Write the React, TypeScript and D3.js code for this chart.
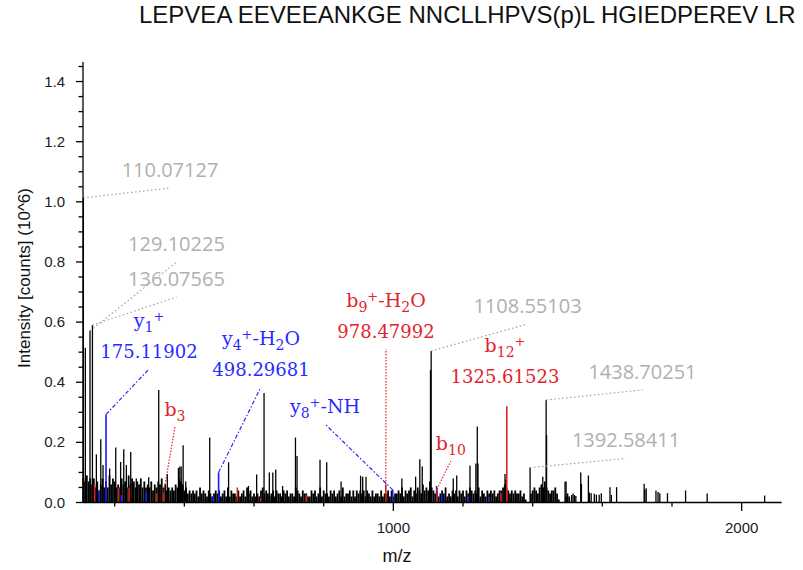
import React from "react";
import * as d3 from "d3";

const TITLE = "LEPVEA EEVEEANKGE NNCLLHPVS(p)L HGIEDPEREV LR";
const X_TITLE = "m/z";
const Y_TITLE = "Intensity [counts] (10^6)";

const X_DOMAIN = [109, 2115];
const Y_DOMAIN = [0, 1.465];
const X_MAJOR = [1000, 2000];
const X_MINOR = [200, 400, 600, 800, 1200, 1400, 1600, 1800];
const Y_MAJOR = [0, 0.2, 0.4, 0.6, 0.8, 1.0, 1.2, 1.4];
const Y_MINOR = [0.05, 0.1, 0.15, 0.25, 0.3, 0.35, 0.45, 0.5, 0.55, 0.65, 0.7, 0.75, 0.85, 0.9, 0.95, 1.05, 1.1, 1.15, 1.25, 1.3, 1.35, 1.45];

// low-level background peaks, hundredths of 10^6 counts, every 5 m/z from 110
const NOISE_MZ_START = 110;
const NOISE_MZ_STEP = 5;
const NOISE_HUNDREDTHS = [
  "8797868574", "6857596875", "6586759687", "5768575657", "4657685645",
  "4546587645", "3434342534", "3243234342", "3425243324", "2342534232",
  "3245343234", "2433243423", "3254324332", "2434235243", "3243423425",
  "2334242434", "3424324233", "2423342423", "3435243452", "4354364547",
  "5434234352", "3243424342", "4354343524", "3243434234", "4565434343",
  "3423100345", "4356575434", "4531000232",
].join("");

// unassigned peaks
const BLACK_MZ = [115.7, 147.4, 160, 166.5, 185.5, 203, 217, 226, 233.5, 246, 262, 297.6, 326.4, 351, 383, 387, 391, 396.5, 404,
  472.8, 527, 584, 607.6, 628.8, 644, 654, 662.4, 682, 719, 723.5, 789.5, 808.7, 850, 906, 912, 921.6,
  1024.5, 1064, 1076, 1083, 1106.7, 1172, 1182, 1220, 1237, 1241, 1243, 1320.6, 1323, 1429, 1439.9,
  1493, 1496, 1512, 1516, 1520, 1524, 1538, 1540, 1560, 1563, 1568, 1577, 1583, 1591, 1597,
  1622, 1626, 1641, 1720, 1722, 1726, 1754, 1760, 1765, 1787, 1839, 1901, 2066];
const BLACK_INT = [0.515, 0.16, 0.21, 0.125, 0.113, 0.183, 0.135, 0.177, 0.125, 0.168, 0.08, 0.084, 0.374, 0.095, 0.115, 0.12, 0.12, 0.19, 0.07,
  0.216, 0.134, 0.055, 0.093, 0.364, 0.1, 0.1, 0.11, 0.055, 0.216, 0.155, 0.142, 0.134, 0.07, 0.089, 0.086, 0.086,
  0.08, 0.086, 0.144, 0.12, 0.44, 0.08, 0.09, 0.123, 0.13, 0.253, 0.13, 0.095, 0.075, 0.086, 0.224,
  0.07, 0.07, 0.025, 0.03, 0.025, 0.022, 0.1, 0.062, 0.09, 0.033, 0.031, 0.029, 0.026, 0.026, 0.031,
  0.051, 0.025, 0.051, 0.062, 0.042, 0.047, 0.04, 0.035, 0.031, 0.031, 0.04, 0.03, 0.023];

// small matched b-ion peaks (red) and y-ion peaks (blue)
const RED_MZ = [142.6, 211.5, 241, 319.6, 552, 619, 751, 1309];
const RED_INT = [0.06, 0.048, 0.048, 0.03, 0.05, 0.015, 0.025, 0.03];
const BLUE_MZ = [155, 219, 291, 483, 1124, 1139, 1215, 1275.6];
const BLUE_INT = [0.04, 0.025, 0.037, 0.02, 0.055, 0.03, 0.02, 0.018];

// annotated peaks
const ANNOT_MZ = [110.07127, 129.10225, 136.07565, 175.11902, 498.29681, 998.3, 340.19, 978.47992, 1125.53, 1325.61523, 1108.55103, 1438.70251, 1392.58411];
const ANNOT_INT = [1.013, 0.571, 0.59, 0.293, 0.1, 0.042, 0.03, 0.06, 0.045, 0.32, 0.504, 0.341, 0.116];
const ANNOT_TONE = ["gray", "gray", "gray", "blue", "blue", "blue", "red", "red", "red", "red", "gray", "gray", "gray"];
const ANNOT_ION = ["", "", "", "y_1^+", "y_4^+-H_2O", "y_8^+-NH", "b_3", "b_9^+-H_2O", "b_10", "b_12^+", "", "", ""];
const ANNOT_MASS = ["110.07127", "129.10225", "136.07565", "175.11902", "498.29681", "", "", "978.47992", "", "1325.61523", "1108.55103", "1438.70251", "1392.58411"];

// label placement (data coordinates of the text baseline centre of the last line)
const LABEL_MZ = [358.8, 377.4, 377.4, 298.5, 620, 803.8, 373, 979, 1165, 1320.6, 1385.2, 1715.3, 1668];
const LABEL_INT = [1.0825, 0.836, 0.72, 0.4805, 0.4207, 0.2976, 0.288, 0.547, 0.1746, 0.397, 0.63, 0.411, 0.183];
const LABEL_LEADER = [true, true, true, true, true, true, true, true, true, false, true, true, true];

const COLORS: Record<string, { bar: string; text: string; lead: string; dash: string }> = {
  gray: { bar: "#000", text: "#b0b0b0", lead: "#a0a0a0", dash: "1.5 2.5" },
  blue: { bar: "#1a1aff", text: "#2a2aff", lead: "#2a2aff", dash: "4 2 1.5 2" },
  red: { bar: "#d81e1e", text: "#e3232b", lead: "#e3232b", dash: "1.5 1.5" },
};

function IonText({ s, x, y, fill }: { s: string; x: number; y: number; fill: string }) {
  const parts = s.match(/(_\d+|\^\+|[^_^]+)/g) || [];
  let cur = 0;
  return (
    <text x={x} y={y} textAnchor="middle" fontFamily="'DejaVu Serif', serif" fontSize={19} fill={fill}>
      {parts.map((p, i) => {
        let target = 0;
        let txt = p;
        let fs = 19;
        if (p.startsWith("_")) { target = 5; txt = p.slice(1); fs = 14; }
        else if (p.startsWith("^")) { target = -6; txt = p.slice(1); fs = 13; }
        const dy = target - cur;
        cur = target;
        return (
          <tspan key={i} dy={dy} fontSize={fs}>{txt}</tspan>
        );
      })}
    </text>
  );
}

export default function App() {
  const W = 803, H = 570;
  const x = d3.scaleLinear().domain(X_DOMAIN).range([83, 781.7]);
  const y = d3.scaleLinear().domain(Y_DOMAIN).range([502.5, 62]);
  const y0 = y(0);

  const noise = NOISE_HUNDREDTHS.split("").map((c, i) => ({ mz: NOISE_MZ_START + i * NOISE_MZ_STEP, v: +c / 100 }));
  const black = BLACK_MZ.map((m, i) => ({ mz: m, v: BLACK_INT[i] }));
  const red = RED_MZ.map((m, i) => ({ mz: m, v: RED_INT[i] }));
  const blue = BLUE_MZ.map((m, i) => ({ mz: m, v: BLUE_INT[i] }));
  const ann = ANNOT_MZ.map((m, i) => ({
    mz: m, v: ANNOT_INT[i], tone: ANNOT_TONE[i], ion: ANNOT_ION[i], mass: ANNOT_MASS[i],
    lmz: LABEL_MZ[i], lint: LABEL_INT[i], leader: LABEL_LEADER[i],
  }));

  const bar = (d: { mz: number; v: number }, color: string, w: number, k: string) => (
    <line key={k} x1={x(d.mz)} x2={x(d.mz)} y1={y0} y2={y(d.v)} stroke={color} strokeWidth={w} />
  );

  return (
    <svg width={W} height={H} style={{ position: "absolute", left: 0, top: 0, background: "#fff" }}>
      <text x={139} y={23} fontFamily="'Liberation Sans', Arial, sans-serif" fontSize={24} fill="#111">{TITLE}</text>

      <g>
        {noise.map((d, i) => bar(d, "#000", 1.8, "n" + i))}
        {black.map((d, i) => bar(d, "#000", 1.3, "b" + i))}
        {red.map((d, i) => bar(d, COLORS.red.bar, 1.5, "r" + i))}
        {blue.map((d, i) => bar(d, COLORS.blue.bar, 1.5, "u" + i))}
        {ann.map((d, i) => bar(d, COLORS[d.tone].bar, d.tone === "gray" ? 1.3 : 1.6, "a" + i))}
      </g>

      <g>
        {ann.map((d, i) => {
          const c = COLORS[d.tone];
          const lx = x(d.lmz);
          const ly = y(d.lint);
          return (
            <g key={"l" + i}>
              {d.leader && (
                <line x1={x(d.mz)} y1={y(d.v)} x2={lx} y2={ly + 11} stroke={c.lead} strokeWidth={1.2} strokeDasharray={c.dash} />
              )}
              {d.tone === "gray" ? (
                <text x={lx} y={ly} textAnchor="middle" fontFamily="'Open Sans', sans-serif" fontSize={20} fill={c.text}>{d.mass}</text>
              ) : (
                <g>
                  {d.mass ? (
                    <>
                      <IonText s={d.ion} x={lx} y={ly - 31} fill={c.text} />
                      <text x={lx} y={ly} textAnchor="middle" fontFamily="'DejaVu Serif', serif" fontSize={18} fill={c.text}>{d.mass}</text>
                    </>
                  ) : (
                    <IonText s={d.ion} x={lx} y={ly} fill={c.text} />
                  )}
                </g>
              )}
            </g>
          );
        })}
      </g>

      <g stroke="#000" strokeWidth={1.3}>
        <line x1={x.range()[0]} x2={x.range()[1]} y1={y0} y2={y0} />
        <line x1={x.range()[0]} x2={x.range()[0]} y1={y0} y2={y.range()[1]} />
        {X_MAJOR.map((t) => <line key={"xm" + t} x1={x(t)} x2={x(t)} y1={y0} y2={y0 + 8.5} />)}
        {X_MINOR.map((t) => <line key={"xn" + t} x1={x(t)} x2={x(t)} y1={y0} y2={y0 + 4} />)}
        {Y_MAJOR.map((t) => <line key={"ym" + t} x1={76} x2={83} y1={y(t)} y2={y(t)} />)}
        {Y_MINOR.map((t) => <line key={"yn" + t} x1={78.5} x2={83} y1={y(t)} y2={y(t)} />)}
      </g>
      <g fontFamily="'Liberation Sans', Arial, sans-serif" fontSize={15} fill="#1c1c28">
        {X_MAJOR.map((t) => <text key={"xl" + t} x={x(t)} y={533} textAnchor="middle">{d3.format("d")(t)}</text>)}
        {Y_MAJOR.map((t) => <text key={"yl" + t} x={65} y={y(t) + 5} textAnchor="end">{d3.format(".1f")(t)}</text>)}
      </g>
      <text x={397} y={562} textAnchor="middle" fontFamily="'Liberation Sans', Arial, sans-serif" fontSize={18} fill="#111">{X_TITLE}</text>
      <text transform="translate(30,278) rotate(-90)" textAnchor="middle" fontFamily="'Liberation Sans', Arial, sans-serif" fontSize={17} fill="#111">{Y_TITLE}</text>
    </svg>
  );
}
